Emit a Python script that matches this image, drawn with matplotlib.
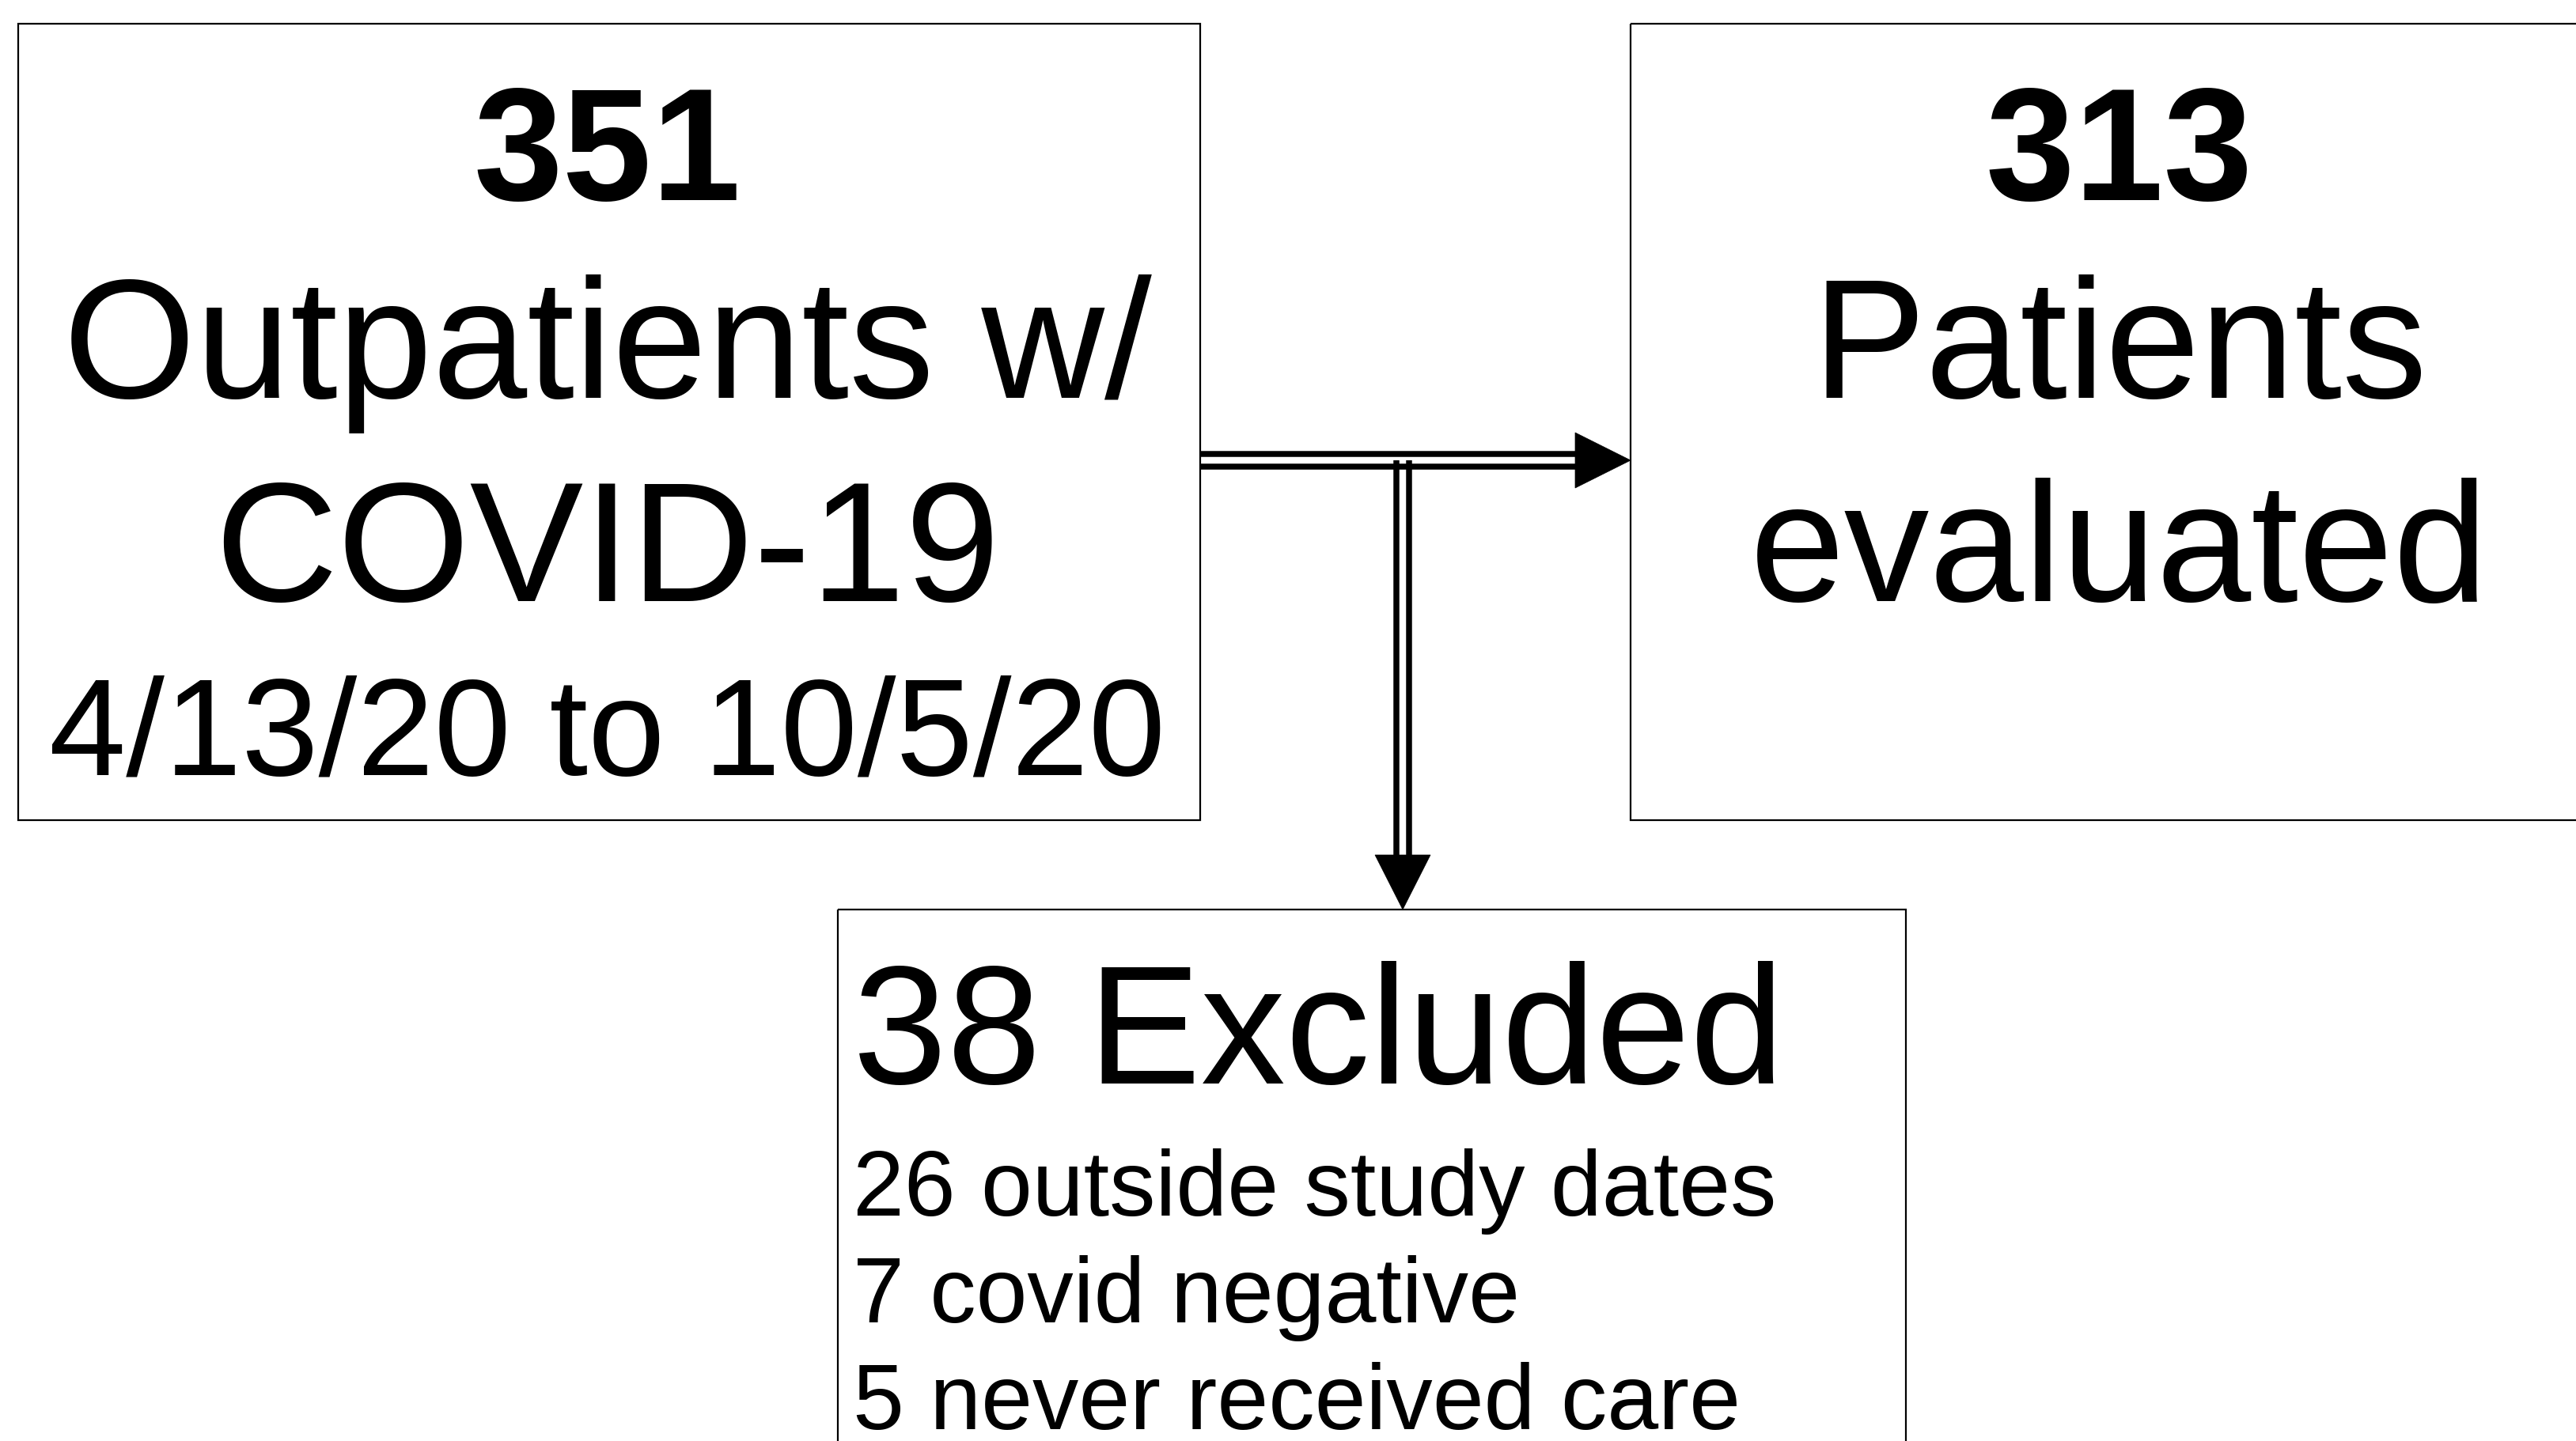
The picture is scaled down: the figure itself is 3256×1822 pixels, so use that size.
import matplotlib
matplotlib.use('Agg')
from matplotlib import pyplot as plt
from matplotlib.patches import Rectangle, Polygon

plt.rcParams['font.family'] = ['Liberation Sans', 'DejaVu Sans']

# flowchart content
TOTAL_N = 351
TOTAL_LINES = ['Outpatients w/', 'COVID-19']
DATE_RANGE = '4/13/20 to 10/5/20'
EVALUATED_N = 313
EVALUATED_LINES = ['Patients', 'evaluated']
EXCLUDED_N = 38
EXCLUDED_COUNTS = [26, 7, 5]
EXCLUDED_REASONS = ['outside study dates', 'covid negative', 'never received care']

W, H = 3256, 1822
fig = plt.figure(figsize=(W / 100, H / 100), dpi=100)
ax = fig.add_axes([0, 0, 1, 1])
ax.set_xlim(0, W)
ax.set_ylim(H, 0)
ax.axis('off')

box_lw = 1.6
# boxes (pixel layout)
ax.add_patch(Rectangle((23, 30), 1517 - 23, 1037 - 30, fill=False, lw=box_lw, ec='black'))
ax.add_patch(Rectangle((2061, 30), 1300, 1037 - 30, fill=False, lw=box_lw, ec='black'))
ax.add_patch(Rectangle((1059, 1150), 2409 - 1059, 800, fill=False, lw=box_lw, ec='black'))

# double horizontal arrow
arrow_lw = 5.4
for y in (574, 590):
    ax.plot([1517, 1995], [y, y], color='black', lw=arrow_lw, solid_capstyle='butt')
ax.add_patch(Polygon([(1991, 547), (2061, 582), (1991, 617)], closed=True, fc='black', ec='black', lw=0.5))

# double vertical arrow
for x in (1765, 1781):
    ax.plot([x, x], [582, 1085], color='black', lw=arrow_lw, solid_capstyle='butt')
ax.add_patch(Polygon([(1738, 1081), (1808, 1081), (1773, 1150)], closed=True, fc='black', ec='black', lw=0.5))

big = 155
# left box text
cx = 768
ax.text(cx, 253, str(TOTAL_N), fontsize=146, fontweight='bold', ha='center', va='baseline')
ax.text(cx, 503, TOTAL_LINES[0], fontsize=big, ha='center', va='baseline')
ax.text(cx, 760, TOTAL_LINES[1], fontsize=big, ha='center', va='baseline')
ax.text(cx, 979, DATE_RANGE, fontsize=126, ha='center', va='baseline')

# right box text
rx = 2679
ax.text(rx, 253, str(EVALUATED_N), fontsize=146, fontweight='bold', ha='center', va='baseline')
ax.text(rx, 503, EVALUATED_LINES[0], fontsize=big, ha='center', va='baseline')
ax.text(rx, 760, EVALUATED_LINES[1], fontsize=big, ha='center', va='baseline')

# bottom box text
bx = 1078
ax.text(bx, 1370, f'{EXCLUDED_N} Excluded', fontsize=154, ha='left', va='baseline')
for y, n, reason in zip([1537, 1672, 1807], EXCLUDED_COUNTS, EXCLUDED_REASONS):
    ax.text(bx, y, f'{n} {reason}', fontsize=84, ha='left', va='baseline')

fig.savefig('out.png', dpi=100)
